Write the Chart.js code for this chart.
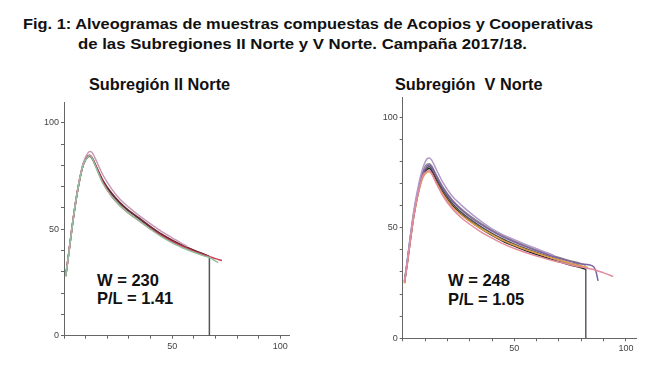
<!DOCTYPE html>
<html>
<head>
<meta charset="utf-8">
<title>Alveogramas</title>
<script src="https://cdn.jsdelivr.net/npm/chart.js@4.4.6/dist/chart.umd.min.js"></script>
<style>
  body { margin: 0; background: #fff; width: 665px; height: 367px; position: relative; overflow: hidden; font-family: "Liberation Sans", Arial, sans-serif; }
  .txt { position: absolute; font-weight: bold; color: #111; white-space: nowrap; line-height: 1; }
  .fit { transform-origin: 0 50%; font-size: 15.5px; }
  canvas { position: absolute; }
</style>
</head>
<body>
<div class="txt fit" id="title1" data-w="570" style="left:23px; top:16px;">Fig. 1: Alveogramas de muestras compuestas de Acopios y Cooperativas</div>
<div class="txt fit" id="title2" data-w="449" style="left:78px; top:36px;">de las Subregiones II Norte y V Norte. Campaña 2017/18.</div>
<div class="txt" style="left:89px; top:76px; font-size:16.3px;">Subregión II Norte</div>
<div class="txt" style="left:395px; top:76px; font-size:16.3px;">Subregión&nbsp; V Norte</div>
<div class="txt" style="left:97px; top:272px; font-size:16.5px;">W = 230</div>
<div class="txt" style="left:97px; top:290px; font-size:16.5px;">P/L = 1.41</div>
<div class="txt" style="left:448px; top:272px; font-size:16.5px;">W = 248</div>
<div class="txt" style="left:448px; top:291px; font-size:16.5px;">P/L = 1.05</div>

<canvas id="chartLeft" style="left:0px; top:95px;" width="300" height="265"></canvas>
<canvas id="chartRight" style="left:340px; top:90px;" width="310" height="270"></canvas>

<script>
// Subregión II Norte
const leftX1 = [0.8, 2, 3.5, 5, 7, 9, 11, 12, 13, 15, 18, 22, 26, 30, 34, 40, 45, 50, 55, 60, 65, 67]
const leftDark = [28, 37, 49, 60, 72, 80.5, 84, 84.3, 83.2, 79, 72.5, 66.5, 62, 58.5, 55.5, 51, 47.5, 44.6, 42.2, 40, 38, 37.2]
const leftMaroon = [28, 37, 49, 60, 72, 80.6, 84.2, 84.6, 83.5, 79.3, 73, 67, 62.4, 58.8, 55.8, 51.3, 47.8, 44.9, 42.4, 40.2, 38.2, 37.4]
const leftX2 = [0.8, 2, 3.5, 5, 7, 9, 11, 12, 13, 15, 18, 22, 26, 30, 34, 40, 45, 50, 55, 57]
const leftLavender = [28, 37, 49, 60.5, 72.5, 81.5, 85.8, 86.5, 86, 82, 75.5, 69, 64, 60.3, 57, 52.5, 49, 46, 43, 42]
const leftX3 = [0.8, 2, 3.5, 5, 7, 9, 11, 12, 13, 15, 18, 22, 26, 30, 34, 40, 45, 50, 55, 60, 65, 67, 70, 73]
const leftRed = [28.5, 37.5, 49.5, 60.5, 72.5, 81, 84.5, 84.8, 83.6, 79, 72, 65.5, 61, 57.5, 54.5, 50.3, 47, 44.2, 41.8, 39.6, 37.8, 37.2, 36.2, 35.3]
const leftX4 = [0.8, 2, 3.5, 5, 7, 9, 11, 12, 13, 15, 18, 22, 26, 30, 34, 40, 45, 50, 55, 60, 65, 67, 71.3]
const leftGreen = [28, 37, 49, 60, 72, 80.5, 84, 84.5, 83.4, 78.5, 71.5, 65.5, 61, 57.5, 54.5, 50, 46.5, 43.6, 41.2, 39.2, 37.4, 36.8, 34.3]
const leftDropX = [67.2, 67.2]
const leftDropY = [36.8, 0]

// Subregión V Norte
const rightX1 = [0.8, 2, 3.5, 5, 7, 9, 11, 12, 13, 15, 18, 22, 26, 30, 35, 40, 45, 50, 55, 60, 65, 67.5]
const rightLavender = [26, 35, 47, 58, 69, 77, 81.3, 81.6, 80.6, 76.5, 70.5, 64.5, 60.5, 57, 53, 49.5, 46.8, 44.6, 42.5, 40.5, 38.6, 37.6]
const rightX2 = [0.8, 2, 3.5, 5, 7, 9, 11, 12, 13, 15, 18, 22, 26, 30, 35, 40, 45, 50, 55, 60, 65, 70, 75, 80, 85, 86.5, 87.5]
const rightPurple = [26, 34.5, 46, 56.5, 67, 74.5, 78, 78.4, 77.4, 73.6, 68, 62.5, 58.4, 55, 51.5, 48.5, 45.8, 43.6, 41.5, 39.6, 37.8, 36.2, 34.8, 33.6, 32.8, 30.5, 26]
const rightX3 = [0.8, 2, 3.5, 5, 7, 9, 11, 12, 13, 15, 18, 22, 26, 30, 35, 40, 45, 50, 55, 60, 65, 70, 75, 80, 82]
const rightGrey = [25.8, 34.5, 46.5, 57, 67.5, 75.5, 78.8, 79, 78, 74, 68.5, 62.8, 58.8, 55.5, 52, 49, 46.3, 44, 41.9, 40, 38.2, 36.6, 35.1, 33.8, 33]
const rightDark = [25.5, 34, 45.5, 56, 66.5, 74, 77.3, 77.6, 76.5, 72.5, 67, 61.3, 57.2, 54, 50.5, 47.5, 44.8, 42.6, 40.6, 38.8, 37.1, 35.5, 34, 32.6, 31.8]
const rightBlack = [25, 33.5, 45, 55.5, 66, 73.5, 76.5, 76.8, 75.7, 71.6, 66, 60.3, 56.3, 53.1, 49.6, 46.6, 43.9, 41.7, 39.7, 37.9, 36.2, 34.6, 33.2, 31.9, 31.2]
const rightX4 = [0.8, 2, 3.5, 5, 7, 9, 11, 12, 13, 15, 18, 22, 26, 30, 35, 40, 45, 50, 55, 60, 65, 70, 75, 80, 83]
const rightOrange = [25, 33, 44.5, 55, 65.5, 72.5, 75.2, 75.4, 74.4, 70.6, 65.3, 59.8, 56, 52.9, 49.6, 46.8, 44.2, 42.1, 40.2, 38.5, 36.9, 35.4, 34, 32.7, 32]
const rightX5 = [0.8, 2, 3.5, 5, 7, 9, 11, 12, 13, 15, 18, 22, 26, 30, 35, 40, 45, 50, 55, 60, 65, 70, 75, 80, 85, 90, 94.3]
const rightPink = [25.5, 33.5, 45, 55.5, 66, 73.5, 75.6, 75.8, 74.5, 70.2, 64.5, 58.8, 54.8, 51.6, 48.2, 45.3, 42.7, 40.6, 38.8, 37.2, 35.8, 34.5, 33.3, 32.2, 31.2, 29.6, 28]
const rightDropX = [82, 82]
const rightDropY = [31.3, 0]

const xTicksShown = [50, 100]
const yTicksShown = [0, 50, 100]

// stretch the two title lines to the widths seen in the figure
document.querySelectorAll(".fit").forEach(el => {
    const w = el.getBoundingClientRect().width
    el.style.transform = "scaleX(" + (Number(el.dataset.w) / w) + ")"
})

function pts(xs, ys) {
    return xs.map((x, i) => ({ x: x, y: ys[i] }))
}
function curve(xs, ys, color) {
    return {
        data: pts(xs, ys),
        borderColor: color,
        borderWidth: 1.5,
        pointRadius: 0,
        cubicInterpolationMode: "monotone",
        fill: false,
    }
}
function makeChart(id, datasets, xMax, yMax, yWidth, xHeight, pad) {
    const axisColor = "#666"
    return new Chart(document.getElementById(id), {
        type: "line",
        data: { datasets: datasets },
        options: {
            responsive: false,
            animation: false,
            layout: { padding: pad },
            plugins: { legend: { display: false }, tooltip: { enabled: false } },
            scales: {
                x: {
                    type: "linear", min: 0, max: xMax,
                    border: { color: axisColor, width: 1 },
                    grid: { drawOnChartArea: false, tickLength: 3, color: axisColor },
                    ticks: {
                        stepSize: 10, includeBounds: false, autoSkip: false, maxRotation: 0, padding: 2,
                        color: "#444", font: { family: "Liberation Sans", size: 9 },
                        callback: v => xTicksShown.includes(v) ? v : "",
                    },
                    afterFit: s => { s.height = xHeight },
                },
                y: {
                    type: "linear", min: 0, max: yMax,
                    border: { color: axisColor, width: 1 },
                    grid: { drawOnChartArea: false, tickLength: 3, color: axisColor },
                    ticks: {
                        stepSize: 10, includeBounds: false, autoSkip: false, padding: 2,
                        color: "#444", font: { family: "Liberation Sans", size: 9 },
                        callback: v => yTicksShown.includes(v) ? v : "",
                    },
                    afterFit: s => { s.width = yWidth },
                },
            },
        },
    })
}

makeChart("chartLeft", [
    curve(leftX4, leftGreen, "#93bf9e"),
    curve(leftX2, leftLavender, "#c79ab8"),
    curve(leftX3, leftRed, "#d23a52"),
    curve(leftX1, leftMaroon, "#6e2a3a"),
    curve(leftX1, leftDark, "#3a3a3a"),
    curve(leftDropX, leftDropY, "#555555"),
], 104, 109.6, 64, 24.3, { top: 4, right: 11, left: 0, bottom: 0 })

makeChart("chartRight", [
    curve(rightX5, rightPink, "#e48a9e"),
    curve(rightX1, rightLavender, "#b39ac9"),
    curve(rightX2, rightPurple, "#7f62a0"),
    curve(rightX3, rightGrey, "#8a8a8a"),
    curve(rightX4, rightOrange, "#e0a048"),
    curve(rightX3, rightDark, "#505050"),
    curve(rightX3, rightBlack, "#222222"),
    curve(rightDropX, rightDropY, "#5a5a6a"),
], 104.8, 109, 62.7, 21.7, { top: 5, right: 13.3, left: 0, bottom: 0 })
</script>
</body>
</html>
